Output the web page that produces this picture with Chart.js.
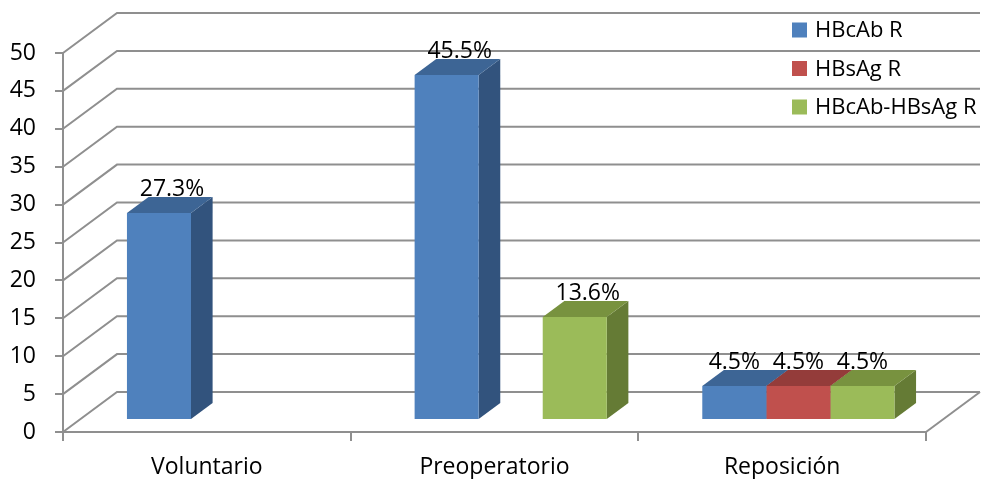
<!DOCTYPE html>
<html>
<head>
<meta charset="utf-8">
<script src="https://cdn.jsdelivr.net/npm/chart.js@4/dist/chart.umd.min.js"></script>
<style>
  html, body { margin: 0; padding: 0; background: #fff; }
  #wrap { width: 989px; height: 479px; }
</style>
</head>
<body>
<div id="wrap"><canvas id="c" width="989" height="479"></canvas></div>
<script>
// Categories and series values (percent)
const categories = ['Voluntario', 'Preoperatorio', 'Reposición'];
const seriesNames = ['HBcAb R', 'HBsAg R', 'HBcAb-HBsAg R'];
const hbcabR = [27.3, 45.5, 4.5];
const hbsagR = [null, null, 4.5];
const hbcabHbsagR = [null, 13.6, 4.5];
const yMin = 0;
const yMax = 50;
const yStep = 5;

// Face colours for each series: front, top, side
const faceColors = [
  { front: '#4f81bd', top: '#3d6595', side: '#32537d' },
  { front: '#c0504d', top: '#943c3a', side: '#7d3230' },
  { front: '#9bbb59', top: '#78923f', side: '#657b35' }
];

const FONT = '"Open Sans", "DejaVu Sans", sans-serif';
const GRID = '#8f8f8f';

// Oblique depth of the floor/left wall, and where the bars sit inside it
const depth = { x: 54, y: -40 };
const barFront = 0.3;
const barDepth = 0.4;
// horizontal nudge of the value labels, per category
const labelShift = [13, 13, 0];

const threeD = {
  id: 'threeD',
  beforeDatasetsDraw(chart) {
    const ctx = chart.ctx;
    const ys = chart.scales.y;
    const area = chart.chartArea;

    // left wall diagonals + back wall horizontal gridlines
    ctx.save();
    ctx.strokeStyle = GRID;
    ctx.lineWidth = 2;
    ys.ticks.forEach(t => {
      const py = ys.getPixelForValue(t.value);
      ctx.beginPath();
      ctx.moveTo(area.left, py);
      ctx.lineTo(area.left + depth.x, py + depth.y);
      ctx.lineTo(area.right + depth.x, py + depth.y);
      ctx.stroke();
    });
    // right edge of the floor
    const y0 = ys.getPixelForValue(0);
    ctx.beginPath();
    ctx.moveTo(area.right, y0);
    ctx.lineTo(area.right + depth.x, y0 + depth.y);
    ctx.stroke();
    ctx.restore();

    // bars sit a little back from the front plane
    ctx.save();
    ctx.translate(depth.x * barFront, depth.y * barFront);
    const bx = depth.x * barDepth, by = depth.y * barDepth;

    const bars = [];
    chart.data.datasets.forEach((ds, di) => {
      const meta = chart.getDatasetMeta(di);
      meta.data.forEach((el, i) => {
        if (ds.data[i] === null || ds.data[i] === undefined) return;
        const p = el.getProps(['x', 'y', 'base', 'width'], true);
        bars.push({ p, di });
      });
    });
    bars.sort((a, b) => a.p.x - b.p.x);
    bars.forEach(({ p, di }) => {
      const x0 = p.x - p.width / 2, x1 = p.x + p.width / 2;
      const top = Math.min(p.y, p.base), bot = Math.max(p.y, p.base);
      const c = faceColors[di];
      // side face
      ctx.fillStyle = c.side;
      ctx.beginPath();
      ctx.moveTo(x1, top);
      ctx.lineTo(x1 + bx, top + by);
      ctx.lineTo(x1 + bx, bot + by);
      ctx.lineTo(x1, bot);
      ctx.closePath();
      ctx.fill();
      // top face
      ctx.fillStyle = c.top;
      ctx.beginPath();
      ctx.moveTo(x0, top);
      ctx.lineTo(x1, top);
      ctx.lineTo(x1 + bx, top + by);
      ctx.lineTo(x0 + bx, top + by);
      ctx.closePath();
      ctx.fill();
    });
    // the translation stays active while the library draws the front faces
  },
  afterDatasetsDraw(chart) {
    const ctx = chart.ctx;
    ctx.restore();

    // value labels above each bar
    ctx.save();
    ctx.font = '23px ' + FONT;
    ctx.fillStyle = '#000';
    ctx.textAlign = 'center';
    ctx.textBaseline = 'alphabetic';
    const ox = depth.x * barFront, oy = depth.y * barFront;
    const by = depth.y * barDepth;
    chart.data.datasets.forEach((ds, di) => {
      const meta = chart.getDatasetMeta(di);
      meta.data.forEach((el, i) => {
        const v = ds.data[i];
        if (v === null || v === undefined) return;
        const p = el.getProps(['x', 'y'], true);
        ctx.fillText(v.toFixed(1) + '%', p.x + ox + labelShift[i], p.y + oy + by - 1);
      });
    });
    ctx.restore();
  },
  afterDraw(chart) {
    // legend, stacked at the upper right
    const ctx = chart.ctx;
    ctx.save();
    ctx.font = '22px ' + FONT;
    ctx.textBaseline = 'middle';
    ctx.textAlign = 'left';
    chart.data.datasets.forEach((ds, di) => {
      const cy = 30 + di * 38.5;
      ctx.fillStyle = faceColors[di].front;
      ctx.fillRect(792, cy - 7.5, 15, 15);
      ctx.fillStyle = '#000';
      ctx.fillText(ds.label, 815, cy + 1);
    });
    ctx.restore();
  }
};

function build() {
  const seriesData = [hbcabR, hbsagR, hbcabHbsagR];
  new Chart(document.getElementById('c'), {
    type: 'bar',
    data: {
      labels: categories,
      datasets: seriesNames.map((name, i) => ({
        label: name,
        data: seriesData[i],
        backgroundColor: faceColors[i].front,
        borderWidth: 0,
        clip: false,
        categoryPercentage: 0.668,
        barPercentage: 1.0
      }))
    },
    options: {
      responsive: false,
      animation: false,
      devicePixelRatio: 1,
      layout: { padding: { left: 0, right: 63, top: 53, bottom: 0 } },
      plugins: { legend: { display: false }, tooltip: { enabled: false } },
      scales: {
        x: {
          offset: true,
          grid: { offset: true, drawOnChartArea: false, drawTicks: true, tickLength: 9, color: GRID, lineWidth: 2 },
          border: { display: true, color: GRID, width: 2 },
          ticks: { color: '#000', font: { family: FONT, size: 23 }, padding: 13, maxRotation: 0 },
          afterFit(s) { s.height = 47; }
        },
        y: {
          min: yMin,
          max: yMax,
          grid: { drawOnChartArea: false, drawTicks: true, tickLength: 8, color: GRID, lineWidth: 2 },
          border: { display: true, color: GRID, width: 2 },
          ticks: { stepSize: yStep, color: '#000', font: { family: FONT, size: 23 }, padding: 19 },
          afterFit(s) { s.width = 63; }
        }
      }
    },
    plugins: [threeD]
  });
}

if (document.fonts && document.fonts.load) {
  Promise.all([document.fonts.load('23px "Open Sans"'), document.fonts.load('22px "Open Sans"')])
    .then(build, build);
} else {
  build();
}
</script>
</body>
</html>
